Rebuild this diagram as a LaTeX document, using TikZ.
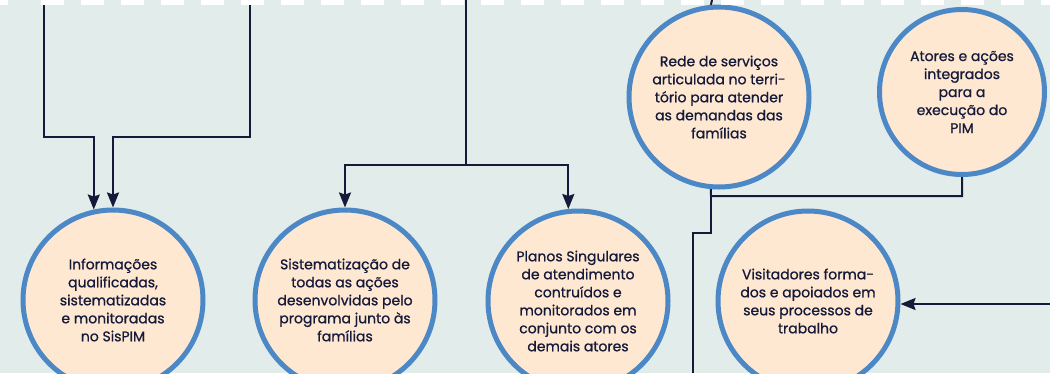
\documentclass[tikz,border=0pt]{standalone}
\usepackage{fontspec}
\setmainfont{Poppins}[FakeBold=0.9]
\usetikzlibrary{arrows.meta}
\definecolor{bgcol}{HTML}{E2ECEA}
\definecolor{ringcol}{HTML}{4C87C6}
\definecolor{fillcol}{HTML}{FEE8D2}
\definecolor{inkcol}{HTML}{161A3A}

\begin{document}
\begin{tikzpicture}[x=1pt,y=-1pt]
\fill[bgcol] (0,0) rectangle (1050,373);
\useasboundingbox (0,0) rectangle (1050,373);

\begin{scope}[every node/.style={circle,draw=ringcol,line width=5pt,fill=fillcol,minimum size=180pt,
              align=center,text=inkcol,font=\fontsize{14}{18}\selectfont}]
    \node (Info) at (113,300) {Informações\\qualificadas,\\sistematizadas\\e monitoradas\\no SisPIM};
    \node (Sist) at (345,300) {Sistematização de\\todas as ações\\desenvolvidas pelo\\programa junto às\\famílias};
    \node (Plan) at (578,301) {Planos Singulares\\de atendimento\\contruídos e\\monitorados em\\conjunto com os\\demais atores};
    \node (Visit) at (808,301) {Visitadores forma-\\dos e apoiados em\\seus processos de\\trabalho};
    \node (Rede) at (719,97) {Rede de serviços\\articulada no terri-\\tório para atender\\as demandas das\\famílias};
    \node[minimum size=165pt] (Atores) at (962,92) {Atores e ações\\integrados\\para a\\execução do\\PIM};
\end{scope}

\begin{scope}[>={Stealth[length=15pt,width=12pt,inset=2pt]},
              every path/.style={draw=inkcol,line width=2pt}]
    \coordinate (T1) at (44,4);
    \coordinate (T2) at (250,4);
    \coordinate (T3) at (466,0);
    \coordinate (T4) at (712,0);
    \coordinate (B1) at (693,373);
    \coordinate (R1) at (1050,304);
    \draw[->] (T1) -- (44,137) -| (Info.102);
    \draw[->] (T2) -- (250,137) -| (Info.north);
    \draw[->] (T3) -- (466,165) -| (Sist.north);
    \draw[->] (466,165) -| (Plan.96);
    \draw (T4) -- (Rede.95);
    \draw (Rede.265) -- (711,196) -| (Atores.south);
    \draw (711,196) -- (711,233) -| (B1);
    \draw[->] (R1) -- (R1 -| Visit.east);
\end{scope}

% dashed border on top
\draw[white,line width=5pt,dash pattern=on 23pt off 17pt] (41,2) -- (1050,2);
\draw[white,line width=5pt] (0,2) -- (8,2);
\end{tikzpicture}
\end{document}
